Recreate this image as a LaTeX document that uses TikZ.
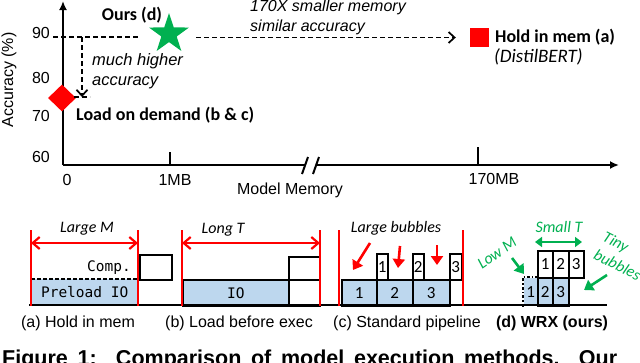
\documentclass[tikz,border=0pt]{standalone}
\usepackage{fontspec}
\setmainfont{Liberation Sans}
\setmonofont{DejaVu Sans Mono}
\newfontfamily\calfont{Carlito}
\usepackage{xcolor}
\usepackage{tikz}
\usetikzlibrary{positioning,shapes.geometric,arrows.meta,calc}
\definecolor{hotred}{RGB}{255,0,0}
\definecolor{oursgreen}{RGB}{0,176,80}
\definecolor{iofill}{RGB}{189,215,238}

\begin{document}
\begin{tikzpicture}[x=1pt,y=-1pt,
    axis/.style={line width=2.6pt},
    guide/.style={line width=1.7pt,dash pattern=on 5pt off 3pt},
    chev/.style={-{Straight Barb[length=6pt,width=11pt]}},
    num/.style={font=\fontsize{16}{19}\selectfont,inner sep=0pt},
    tag/.style={font=\calfont\bfseries\fontsize{18}{21}\selectfont,inner sep=0pt,anchor=west},
    remark/.style={font=\itshape\fontsize{16.5}{20}\selectfont,inner sep=0pt,align=left,anchor=west},
    note/.style={font=\calfont\itshape\fontsize{16}{20}\selectfont,inner sep=0pt},
    mono/.style={font=\ttfamily\fontsize{14.5}{16}\selectfont},
    fence/.style={hotred,line width=2pt},
    span/.style={hotred,line width=2.2pt,{Straight Barb[length=7pt,width=12pt]}-{Straight Barb[length=7pt,width=12pt]}},
    cell/.style={draw,line width=1.6pt,inner sep=0pt,anchor=north west,font=\calfont\fontsize{17}{19}\selectfont},
    iocell/.style={cell,fill=iofill},
    pointer/.style={line width=2.6pt,-{Triangle[length=9pt,width=12pt]}},
    sub/.style={font=\fontsize{16}{19}\selectfont,inner sep=0pt}]
  \useasboundingbox (0,0) rectangle (640,362);
  % accuracy vs. memory
  \coordinate (org) at (63,165);
  \coordinate (ytip) at (63,1);
  \coordinate (xcut) at (306,165);
  \coordinate (xrest) at (317,165);
  \coordinate (xtip) at (619,165);
  \draw[axis,-{Latex[length=9pt,width=8pt]}] (org) -- (ytip);
  \draw[axis] (org) -- (xcut);
  \draw[axis,-{Latex[length=9pt,width=8pt]}] (xrest) -- (xtip);
  \draw[line width=2pt] (302,174) -- (308,157) (313,174) -- (319,157);
  \draw[line width=2pt] (170,152) -- (170,165) (478,147) -- (478,165);
  \node[num] (y90) at (41,33) {90};
  \node[num] (y80) at (41,78) {80};
  \node[num] (y70) at (41,116) {70};
  \node[num] (y60) at (41,157) {60};
  \node[num] (x0) at (67,180) {0};
  \node[num] (x1) at (175,180) {1MB};
  \node[num] (x170) at (494,179) {170MB};
  \node[num] (xname) at (290,190) {Model Memory};
  \node[num,rotate=90] (yname) at (9,80) {Accuracy (\%)};

  \node[star,star points=5,star point ratio=2.6,fill=oursgreen,minimum size=42,inner sep=0pt] (ours) at (169,34) {};
  \node[diamond,fill=hotred,minimum width=28,minimum height=27,inner sep=0pt] (lod) at (62,98) {};
  \node[rectangle,fill=hotred,minimum size=19,inner sep=0pt] (him) at (479.5,37.5) {};
  \node[tag,anchor=center] (ourstag) at (132,15) {Ours (d)};
  \node[tag] (lodtag) at (76,115) {Load on demand (b \& c)};
  \node[tag] (himtag) at (495,37) {Hold in mem (a)};
  \node[font=\calfont\itshape\fontsize{19}{21}\selectfont,inner sep=0pt,anchor=west] (distil) at (494,57) {(DistilBERT)};
  \node[remark] (gain) at (92,71) {much higher\\accuracy};
  \node[remark,font=\itshape\fontsize{16}{20}\selectfont] (saving) at (250,17) {170X smaller memory\\similar accuracy};

  \coordinate (g90) at (53,37);
  \coordinate (g90end) at (138,37);
  \coordinate (drop) at (82,37);
  \coordinate (dropend) at (82,97);
  \coordinate (g75) at (74,97);
  \coordinate (g75end) at (90,97);
  \draw[guide] (g90) -- (g90end);
  \draw[guide] (g75) -- (g75end);
  \draw[guide,chev] (drop) -- (dropend);
  \draw[guide,chev,shorten <=27pt,shorten >=14pt] (ours.center |- him.west) -- (him.west);

  % execution timelines
  \coordinate (rail0) at (29,305);
  \coordinate (rail1) at (607,305);

  \node[fill=iofill,inner sep=0pt,anchor=north west,minimum width=107,minimum height=26,mono] (preload) at (31,279) {Preload IO};
  \draw[line width=1.4pt,dash pattern=on 4pt off 2pt] (preload.north west) -- (preload.north east);
  \node[mono,anchor=east,inner sep=0pt] (compa) at (131,268) {Comp.};
  \node[cell,minimum width=32,minimum height=25] (runa) at (139,254) {};

  \node[iocell,minimum width=106,minimum height=26,mono] (io) at (182,279) {IO};
  \node[cell,minimum width=31,minimum height=23] (runb) at (288,256) {};
  \node[cell,minimum width=31,minimum height=26] (idleb) at (288,279) {};

  \node[iocell,minimum width=35,minimum height=26] (p1) at (341,279) {1};
  \node[iocell,minimum width=36,minimum height=26] (p2) at (376,279) {2};
  \node[iocell,minimum width=37,minimum height=26] (p3) at (412,279) {3};
  \node[cell,minimum width=11,minimum height=26] (q1) at (376,253) {1};
  \node[cell,minimum width=11,minimum height=26] (q2) at (412,253) {2};
  \node[cell,minimum width=12,minimum height=26] (q3) at (449,253) {3};

  \node[iocell,draw=none,minimum width=14,minimum height=28] (w1) at (523,277) {1};
  \draw[line width=1.4pt,dash dot] (w1.south west) -- (w1.north west) -- (w1.north east);
  \node[iocell,minimum width=15,minimum height=28] (w2) at (537,277) {2};
  \node[iocell,minimum width=16,minimum height=28] (w3) at (552,277) {3};
  \node[cell,minimum width=15,minimum height=27] (v1) at (537,250) {1};
  \node[cell,minimum width=16,minimum height=27] (v2) at (552,250) {2};
  \node[cell,minimum width=15,minimum height=27] (v3) at (568,250) {3};

  \draw[line width=2.2pt] (rail0) -- (rail1);

  \coordinate (fa1) at (31,230);
  \coordinate (fa2) at (138,230);
  \coordinate (fb1) at (182,230);
  \coordinate (fb2) at (320,230);
  \coordinate (fc1) at (339,230);
  \coordinate (fc2) at (463,230);
  \foreach \f in {fa1,fa2,fb1,fb2,fc1,fc2}
    \draw[fence] (\f) -- ++(0,76);
  \draw[span] ($(fa1)+(0,13)$) -- ($(fa2)+(0,13)$);
  \draw[span] ($(fb1)+(0,13)$) -- ($(fb2)+(0,13)$);
  \node[note] (largem) at (87,229) {Large M};
  \node[note] (longt) at (223,230) {Long T};
  \node[note] (bubbles) at (396,228) {Large bubbles};

  \coordinate (r1) at (370,243);
  \coordinate (r1end) at (353,270);
  \coordinate (r2) at (400,246);
  \coordinate (r2end) at (398,268);
  \coordinate (r3) at (437,245);
  \coordinate (r3end) at (437,265);
  \draw[pointer,hotred] (r1) -- (r1end);
  \draw[pointer,hotred] (r2) -- (r2end);
  \draw[pointer,hotred] (r3) -- (r3end);

  \node[note,text=oursgreen] (smallt) at (559,227) {Small T};
  \coordinate (st0) at (535,242);
  \coordinate (st1) at (582,242);
  \draw[oursgreen,line width=2.2pt,{Triangle[length=7pt,width=10pt]}-{Triangle[length=7pt,width=10pt]}] (st0) -- (st1);
  \node[note,text=oursgreen,rotate=35] (lowm) at (497,253) {Low M};
  \coordinate (lm) at (512,258);
  \coordinate (lmend) at (524,274);
  \draw[pointer,oursgreen] (lm) -- (lmend);
  \node[note,text=oursgreen,rotate=-27,align=left] (tiny) at (622,256) {Tiny\\bubbles};
  \coordinate (tb) at (607,275);
  \coordinate (tbend) at (584,290);
  \draw[pointer,oursgreen] (tb) -- (tbend);

  \node[sub] (capa) at (78,323) {(a) Hold in mem};
  \node[sub] (capb) at (239,323) {(b) Load before exec};
  \node[sub] (capc) at (407,323) {(c) Standard pipeline};
  \node[sub,font=\bfseries\fontsize{16}{19}\selectfont] (capd) at (552,323) {(d) WRX (ours)};

  \node[font=\bfseries\fontsize{21.5}{24}\selectfont,anchor=base west,inner sep=0pt] (figcap) at (2,365.5)
    {\makebox[615pt][s]{Figure 1:\ \ Comparison of model execution methods.\ \ Our}};
\end{tikzpicture}
\end{document}
